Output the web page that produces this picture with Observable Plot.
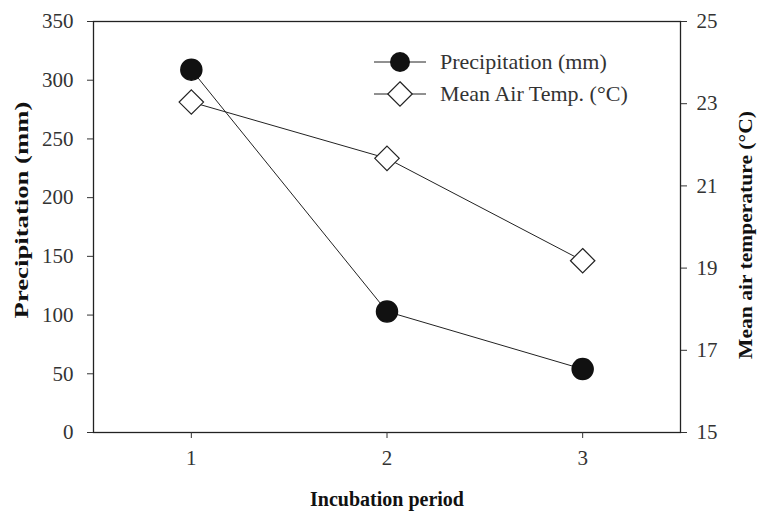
<!DOCTYPE html>
<html>
<head>
<meta charset="utf-8">
<script src="https://cdn.jsdelivr.net/npm/d3@7"></script>
<script src="https://cdn.jsdelivr.net/npm/@observablehq/plot@0.6"></script>
<style>
  body { margin: 0; background: #fff; }
  #wrap { position: relative; width: 760px; height: 511px; }
  #legend { position: absolute; left: 372px; top: 46px; font-family: "Liberation Serif", "Times New Roman", serif; font-size: 22px; color: #333; }
  #legend .row { display: flex; align-items: center; height: 32px; }
  #legend svg { margin-right: 12px; }
</style>
</head>
<body>
<div id="wrap">
  <div id="chart"></div>
  <div id="legend"></div>
</div>
<script>
const periods = [1, 2, 3];
const precipitation = [309, 103, 54];
const meanAirTemp = [23.04, 21.67, 19.18];
const precipTicks = [0, 50, 100, 150, 200, 250, 300, 350];
const tempTicks = [15, 17, 19, 21, 23, 25];
const xTitle = "Incubation period";
const yTitle = "Precipitation (mm)";
const y2Title = "Mean air temperature (°C)";
const seriesNames = ["Precipitation (mm)", "Mean Air Temp. (°C)"];

// map temperature onto the precipitation scale (secondary axis)
const t2p = d3.scaleLinear([15, 25], [0, 350]);

const precipData = periods.map((p, i) => ({period: p, value: precipitation[i]}));
const tempData = periods.map((p, i) => ({period: p, value: t2p(meanAirTemp[i])}));

const font = "Liberation Serif, Times New Roman, serif";

const chart = Plot.plot({
  width: 760,
  height: 511,
  marginLeft: 93,
  marginRight: 80,
  marginTop: 21,
  marginBottom: 79,
  style: {fontFamily: font, fontSize: "21px", color: "#333", background: "white"},
  x: {domain: [0.5, 3.5]},
  y: {domain: [0, 350]},
  marks: [
    Plot.frame({stroke: "#222", strokeWidth: 1.3}),
    Plot.axisX({ticks: periods, tickSize: 6, tickPadding: 12, tickFormat: d3.format("d"), label: null, fontSize: 21, stroke: "#333"}),
    Plot.axisY({ticks: precipTicks, tickSize: 6, tickPadding: 14, label: null, fontSize: 21, stroke: "#333"}),
    Plot.axisY({anchor: "right", ticks: tempTicks.map(t2p), tickFormat: v => d3.format("d")(Math.round(t2p.invert(v))), tickSize: 6, tickPadding: 10, label: null, fontSize: 21, stroke: "#333"}),
    Plot.text([xTitle], {frameAnchor: "bottom", dy: 73, fontWeight: "bold", fontSize: 20, fill: "#111"}),
    Plot.text([yTitle], {frameAnchor: "left", textAnchor: "middle", lineAnchor: "middle", rotate: -90, dx: -72, dy: -17, fontWeight: "bold", fontSize: 19, fill: "#111"}),
    Plot.text([y2Title], {frameAnchor: "right", textAnchor: "middle", lineAnchor: "middle", rotate: -90, dx: 65, dy: 8, fontWeight: "bold", fontSize: 19, fill: "#111"}),
    Plot.line(precipData, {x: "period", y: "value", stroke: "#222", strokeWidth: 1}),
    Plot.line(tempData, {x: "period", y: "value", stroke: "#222", strokeWidth: 1}),
    Plot.dot(precipData, {x: "period", y: "value", r: 10.5, fill: "#111", stroke: "#111"}),
    Plot.dot(tempData, {x: "period", y: "value", symbol: "diamond2", r: 11, fill: "white", stroke: "#222", strokeWidth: 1.2})
  ]
});
document.getElementById("chart").appendChild(chart);

// stretch the rotated axis titles along their length to match the reference
const targetLen = {[yTitle]: 217, [y2Title]: 248};
d3.select(chart).selectAll("text").each(function () {
  const t = this.textContent;
  if (targetLen[t]) {
    const len = this.getComputedTextLength();
    const tr = this.getAttribute("transform") || "";
    this.setAttribute("transform", tr + ` scale(${targetLen[t] / len},1)`);
  }
});

// legend
const legend = d3.select("#legend");
seriesNames.forEach((name, i) => {
  const row = legend.append("div").attr("class", "row");
  const s = row.append("svg").attr("width", 56).attr("height", 30);
  s.append("line").attr("x1", 2).attr("x2", 54).attr("y1", 15).attr("y2", 15).attr("stroke", "#222");
  if (i === 0) {
    s.append("circle").attr("cx", 28).attr("cy", 15).attr("r", 10).attr("fill", "#111");
  } else {
    s.append("path").attr("transform", "translate(28,15)")
      .attr("d", d3.symbol(d3.symbolDiamond2, 11 * 11 * Math.PI)())
      .attr("fill", "white").attr("stroke", "#222").attr("stroke-width", 1.2);
  }
  row.append("span").text(name);
});
</script>
</body>
</html>
